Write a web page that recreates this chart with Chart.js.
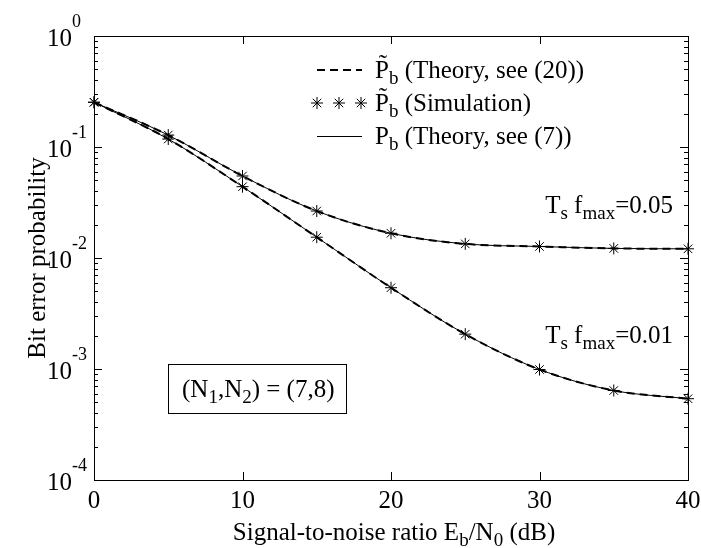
<!DOCTYPE html>
<html>
<head>
<meta charset="utf-8">
<script src="https://cdn.jsdelivr.net/npm/chart.js@4.4.0/dist/chart.umd.min.js"></script>
<style>
  html, body { margin: 0; padding: 0; background: #fff; }
</style>
</head>
<body>
<canvas id="berChart" width="701" height="548"></canvas>
<script>
// Eb/N0 in dB
const snrDb = [0, 5, 10, 15, 20, 25, 30, 35, 40];
// Ts fmax = 0.05
const theoryHigh = [0.253, 0.128, 0.0548, 0.0265, 0.0167, 0.0134, 0.0127, 0.0122, 0.0121];
const simHigh = [0.253, 0.128, 0.0548, 0.0265, 0.0167, 0.0134, 0.0127, 0.0122, 0.0121];
// Ts fmax = 0.01
const theoryLow = [0.253, 0.118, 0.0439, 0.0154, 0.0054, 0.00206, 0.00099, 0.00064, 0.00054];
const simLow = [0.253, 0.118, 0.0439, 0.0154, 0.0054, 0.00206, 0.00099, 0.00064, 0.00054];

const xTicks = [0, 10, 20, 30, 40];
const yExponents = [0, -1, -2, -3, -4];

const FONT = '"Liberation Serif", "Times New Roman", serif';
const BASE = 25;

function pts(ys) {
    return snrDb.map((x, i) => ({ x: x, y: ys[i] }));
}

// draws text made of pieces: plain, subscript, superscript, tilde over a letter
function drawRich(ctx, parts, x, y, align, size) {
    const subSize = Math.round(size * 0.74);
    const supSize = Math.round(size * 0.72);
    const fontOf = p => (p.sub ? subSize : p.sup ? supSize : size) + 'px ' + FONT;
    ctx.textBaseline = 'alphabetic';
    ctx.textAlign = 'left';
    let w = 0;
    parts.forEach(p => {
        ctx.font = fontOf(p);
        p.w = ctx.measureText(p.t).width;
        w += p.w;
    });
    let cx = align === 'right' ? x - w : align === 'center' ? x - w / 2 : x;
    parts.forEach(p => {
        ctx.font = fontOf(p);
        const dy = p.sub ? Math.round(size * 0.24) : p.sup ? -Math.round(size * 0.74) : 0;
        ctx.fillText(p.t, cx, y + dy);
        if (p.tilde) {
            ctx.textAlign = 'center';
            ctx.fillText('\u02DC', cx + p.w / 2 + 1, y - 6);
            ctx.textAlign = 'left';
        }
        cx += p.w;
    });
}

const framePlugin = {
    id: 'frame',
    afterDraw(chart) {
        const ctx = chart.ctx;
        const a = chart.chartArea;
        const xs = chart.scales.x;
        const ys = chart.scales.y;
        ctx.save();
        ctx.fillStyle = '#000';
        ctx.strokeStyle = '#000';
        ctx.lineWidth = 1;
        ctx.setLineDash([]);

        // box
        ctx.strokeRect(a.left + 0.5, a.top + 0.5, a.right - a.left, a.bottom - a.top);

        // x ticks, inward on bottom and top
        ctx.beginPath();
        xTicks.forEach(v => {
            const px = Math.round(xs.getPixelForValue(v)) + 0.5;
            ctx.moveTo(px, a.bottom); ctx.lineTo(px, a.bottom - 8);
            ctx.moveTo(px, a.top); ctx.lineTo(px, a.top + 8);
        });
        // y ticks, decades and minors, inward on left and right
        yExponents.forEach(e => {
            for (let k = 1; k <= 9; k++) {
                const v = k * Math.pow(10, e);
                if (v > 1) break;
                const py = Math.round(ys.getPixelForValue(v)) + 0.5;
                const len = k === 1 ? 8 : 4;
                ctx.moveTo(a.left, py); ctx.lineTo(a.left + len, py);
                ctx.moveTo(a.right, py); ctx.lineTo(a.right - len, py);
            }
        });
        ctx.stroke();

        // tick labels
        ctx.font = BASE + 'px ' + FONT;
        ctx.textAlign = 'center';
        ctx.textBaseline = 'alphabetic';
        xTicks.forEach(v => {
            ctx.fillText(String(v), xs.getPixelForValue(v), a.bottom + 28);
        });
        yExponents.forEach(e => {
            const py = ys.getPixelForValue(Math.pow(10, e));
            drawRich(ctx, [{ t: '10' }, { t: String(e), sup: true }], 47, py + 10, 'left', BASE);
        });

        // axis titles
        drawRich(ctx, [
            { t: 'Signal-to-noise ratio E' }, { t: 'b', sub: true },
            { t: '/N' }, { t: '0', sub: true }, { t: ' (dB)' }
        ], (a.left + a.right) / 2 + 3, 540, 'center', BASE);

        ctx.save();
        ctx.translate(45, (a.top + a.bottom) / 2);
        ctx.rotate(-Math.PI / 2);
        ctx.font = BASE + 'px ' + FONT;
        ctx.textAlign = 'center';
        ctx.fillText('Bit error probability', 0, 0);
        ctx.restore();

        // legend
        const lx0 = 317, lx1 = 362, tx = 375;
        ctx.lineWidth = 2;
        ctx.setLineDash([8, 5]);
        ctx.beginPath(); ctx.moveTo(lx0, 70); ctx.lineTo(lx1, 70); ctx.stroke();
        ctx.setLineDash([]);
        ctx.lineWidth = 1;
        ctx.beginPath(); ctx.moveTo(lx0, 136.5); ctx.lineTo(lx1, 136.5); ctx.stroke();
        [317, 339, 361].forEach(sx => {
            Chart.helpers.drawPoint(ctx, { pointStyle: 'star', radius: 6, borderWidth: 1 }, sx, 103);
        });
        drawRich(ctx, [{ t: 'P', tilde: true }, { t: 'b', sub: true }, { t: ' (Theory, see (20))' }], tx, 78, 'left', BASE);
        drawRich(ctx, [{ t: 'P', tilde: true }, { t: 'b', sub: true }, { t: ' (Simulation)' }], tx, 111, 'left', BASE);
        drawRich(ctx, [{ t: 'P' }, { t: 'b', sub: true }, { t: ' (Theory, see (7))' }], tx, 144, 'left', BASE);

        // curve labels
        drawRich(ctx, [{ t: 'T' }, { t: 's', sub: true }, { t: ' f' }, { t: 'max', sub: true }, { t: '=0.05' }], 673, 213, 'right', BASE);
        drawRich(ctx, [{ t: 'T' }, { t: 's', sub: true }, { t: ' f' }, { t: 'max', sub: true }, { t: '=0.01' }], 673, 343, 'right', BASE);

        // (N1,N2) box
        ctx.lineWidth = 1;
        ctx.strokeRect(168.5, 364.5, 178, 49);
        drawRich(ctx, [
            { t: '(N' }, { t: '1', sub: true }, { t: ',N' }, { t: '2', sub: true }, { t: ') = (7,8)' }
        ], 182, 397, 'left', BASE);

        ctx.restore();
    }
};

function theoryLine(ys, dashed) {
    return {
        data: pts(ys),
        borderColor: '#000',
        borderWidth: dashed ? 2 : 1,
        borderDash: dashed ? [8, 5] : [],
        pointRadius: 0,
        cubicInterpolationMode: 'monotone',
        fill: false,
        clip: 8
    };
}

function simPoints(ys) {
    return {
        data: pts(ys),
        showLine: false,
        pointStyle: 'star',
        pointRadius: 6,
        borderColor: '#000',
        backgroundColor: '#000',
        borderWidth: 1,
        clip: 10
    };
}

const ctx = document.getElementById('berChart');
new Chart(ctx, {
    type: 'line',
    data: {
        datasets: [
            theoryLine(theoryHigh, false),
            theoryLine(theoryLow, false),
            theoryLine(theoryHigh, true),
            theoryLine(theoryLow, true),
            simPoints(simHigh),
            simPoints(simLow)
        ]
    },
    options: {
        responsive: false,
        animation: false,
        devicePixelRatio: 1,
        layout: { padding: { left: 94, right: 13, top: 36, bottom: 68 } },
        scales: {
            x: { type: 'linear', min: 0, max: 40, display: false },
            y: { type: 'logarithmic', min: 1e-4, max: 1, display: false }
        },
        plugins: {
            legend: { display: false },
            tooltip: { enabled: false }
        }
    },
    plugins: [framePlugin]
});
</script>
</body>
</html>
